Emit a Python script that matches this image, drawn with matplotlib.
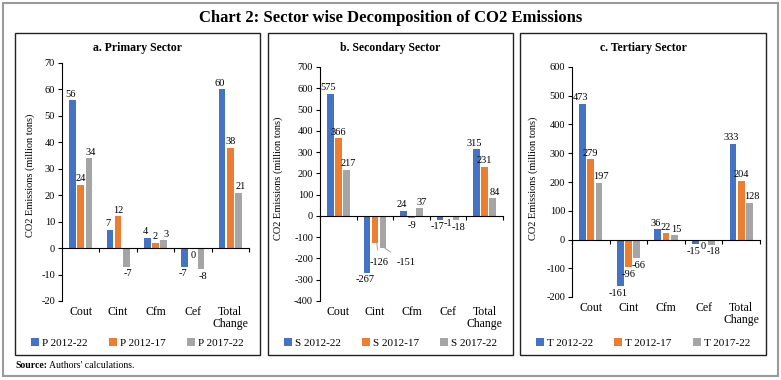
import numpy as np
import matplotlib.pyplot as plt
from matplotlib.patches import Rectangle
from matplotlib.text import Annotation

categories = ['Cout', 'Cint', 'Cfm', 'Cef', 'Total\nChange']

p_2012_22 = [56, 7, 4, -7, 60]
p_2012_17 = [24, 12, 2, 0, 38]
p_2017_22 = [34, -7, 3, -8, 21]

s_2012_22 = [575, -267, 24, -17, 315]
s_2012_17 = [366, -126, -9, -1, 231]
s_2017_22 = [217, -151, 37, -18, 84]

t_2012_22 = [473, -161, 36, -15, 333]
t_2012_17 = [279, -96, 22, 0, 204]
t_2017_22 = [197, -66, 15, -18, 128]

colors = ['#4472C4', '#ED7D31', '#A5A5A5']
W, H = 781, 380

plt.rcParams['font.family'] = ['Liberation Serif', 'DejaVu Serif']
plt.rcParams['axes.unicode_minus'] = False

fig = plt.figure(figsize=(W / 100, H / 100), dpi=100)


def fx(px):
    return px / W


def fy(py):
    return 1 - py / H


def frame(x0, y0, x1, y1, color, lw):
    fig.patches.append(Rectangle((fx(x0), fy(y1)), fx(x1 - x0), (y1 - y0) / H,
                                 transform=fig.transFigure, fill=False,
                                 edgecolor=color, linewidth=lw))


# outer frame, title and source note
frame(3, 3, 778, 376, '#9a9a9a', 1.5)
fig.text(0.5, fy(18), 'Chart 2: Sector wise Decomposition of CO2 Emissions',
         ha='center', va='center', fontsize=12, fontweight='bold')
src = fig.text(fx(15), fy(366), 'Source:', ha='left', va='center', fontsize=7, fontweight='bold')
fig.add_artist(Annotation(" Authors' calculations.", xy=(1, 0.5), xycoords=src,
                          xytext=(0, 0), textcoords='offset points',
                          ha='left', va='center', fontsize=7))

panels = [
    dict(box=(15, 33, 260, 355), ax=(62, 63, 249, 301), ylab=(30, 175),
         title='a. Primary Sector', series=[p_2012_22, p_2012_17, p_2017_22],
         names=['P 2012-22', 'P 2012-17', 'P 2017-22'], ylim=(-20, 70), step=10),
    dict(box=(268, 33, 513, 355), ax=(320, 67, 503, 301), ylab=(278, 178),
         title='b. Secondary Sector', series=[s_2012_22, s_2012_17, s_2017_22],
         names=['S 2012-22', 'S 2012-17', 'S 2017-22'], ylim=(-400, 700), step=100),
    dict(box=(520, 33, 766, 355), ax=(572, 67, 760, 297), ylab=(533, 178),
         title='c. Tertiary Sector', series=[t_2012_22, t_2012_17, t_2017_22],
         names=['T 2012-22', 'T 2012-17', 'T 2017-22'], ylim=(-200, 600), step=100),
]

x = np.arange(len(categories)) + 0.5
offsets = [-0.22, 0, 0.22]
nudge = [-1.5, 0, 1.5]
width = 0.18

for k, p in enumerate(panels):
    bx0, by0, bx1, by1 = p['box']
    frame(bx0, by0, bx1, by1, '#222222', 1.0)
    fig.text(fx((bx0 + bx1) / 2), fy(by0 + 15), p['title'], ha='center', va='center',
             fontsize=8.5, fontweight='bold')

    ax0, ay0, ax1, ay1 = p['ax']
    ax = fig.add_axes([fx(ax0), fy(ay1), fx(ax1 - ax0), (ay1 - ay0) / H])
    handles = []
    for i, vals in enumerate(p['series']):
        bars = ax.bar(x + offsets[i], vals, width, color=colors[i], label=p['names'][i])
        handles.append(bars)
        for j, v in enumerate(vals):
            xp = x[j] + offsets[i]
            if k == 1 and j == 1 and i > 0:
                # leader-line labels in the secondary Cint group
                tx = [None, 1.62, 2.35][i]
                ax.annotate(str(v), xy=(xp + 0.05, v), xytext=(tx, -220),
                            ha='center', va='center', fontsize=7.5,
                            arrowprops=dict(arrowstyle='-', color='#a0a0a0', lw=0.7,
                                            shrinkA=4, shrinkB=0))
                continue
            if v > 0:
                ax.annotate(str(v), (xp, v), xytext=(nudge[i], 1), textcoords='offset points',
                            ha='center', va='bottom', fontsize=7.5)
            else:
                ax.annotate(str(v), (xp, v), xytext=(nudge[i], -2), textcoords='offset points',
                            ha='center', va='top', fontsize=7.5)

    lo, hi = p['ylim']
    ax.set_ylim(lo, hi)
    ax.set_xlim(0, len(categories))
    ax.set_yticks(np.arange(lo, hi + 1, p['step']))
    ax.tick_params(axis='y', labelsize=7.5, length=3, width=0.8, pad=2)
    ax.spines['top'].set_visible(False)
    ax.spines['right'].set_visible(False)
    ax.spines['bottom'].set_position(('data', 0))
    ax.spines['left'].set_linewidth(0.8)
    ax.spines['bottom'].set_linewidth(0.8)
    ax.set_xticks(np.arange(len(categories) + 1))
    ax.set_xticklabels([])
    ax.tick_params(axis='x', length=3, width=0.8, direction='out')
    for j, c in enumerate(categories):
        ax.text(x[j], -0.02, c, transform=ax.get_xaxis_transform(), ha='center', va='top',
                fontsize=8.5, linespacing=1.05)
    ax.patch.set_alpha(0)

    fig.text(fx(p['ylab'][0]), fy(p['ylab'][1]), 'CO2 Emissions (million tons)',
             rotation=90, ha='center', va='center', fontsize=7.5)

    fig.legend(handles=handles, loc='center',
               bbox_to_anchor=(fx((bx0 + bx1) / 2), fy(343)), ncol=3, frameon=False,
               fontsize=8, handlelength=0.7, handleheight=0.7, handletextpad=0.3,
               columnspacing=1.9)

fig.savefig('out.png', dpi=100)
